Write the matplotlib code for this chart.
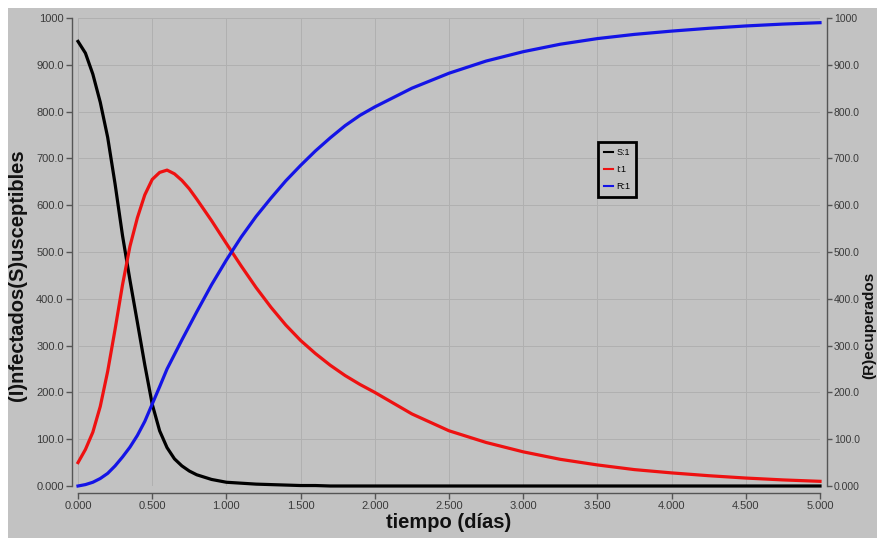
import matplotlib
matplotlib.use("Agg")
import matplotlib.pyplot as plt
from matplotlib.patches import Rectangle

# SIR simulation output (days, people)
tiempo = [0.00, 0.05, 0.10, 0.15, 0.20, 0.25, 0.30, 0.35, 0.40, 0.45, 0.50,
          0.55, 0.60, 0.65, 0.70, 0.75, 0.80, 0.90, 1.00, 1.10, 1.20, 1.30,
          1.40, 1.50, 1.60, 1.70, 1.80, 1.90, 2.00, 2.25, 2.50, 2.75, 3.00,
          3.25, 3.50, 3.75, 4.00, 4.25, 4.50, 4.75, 5.00]

susceptibles = [950, 925, 880, 820, 745, 645, 535, 440, 350, 259, 175,
                118, 82, 58, 43, 32, 24, 14, 8, 6, 4, 3,
                2, 1, 1, 0, 0, 0, 0, 0, 0, 0, 0,
                0, 0, 0, 0, 0, 0, 0, 0]

infectados = [50, 78, 115, 170, 245, 335, 430, 512, 573, 622, 655,
              670, 675, 667, 653, 635, 613, 567, 518, 470, 424, 382,
              344, 311, 283, 258, 236, 217, 200, 154, 118, 93, 73,
              57, 45, 35, 28, 22, 17, 13, 10]

recuperados = [0, 3, 8, 16, 27, 43, 62, 83, 108, 138, 175,
               212, 250, 281, 312, 342, 372, 430, 483, 532, 576, 615,
               652, 685, 716, 744, 770, 792, 810, 850, 882, 908, 928,
               944, 956, 965, 972, 978, 983, 987, 990]

x_ticks = [0, 0.5, 1, 1.5, 2, 2.5, 3, 3.5, 4, 4.5, 5]
x_labels = ["0.000", "0.500", "1.000", "1.500", "2.000", "2.500",
            "3.000", "3.500", "4.000", "4.500", "5.000"]
y_ticks = [0, 100, 200, 300, 400, 500, 600, 700, 800, 900, 1000]
y_labels = ["0.000", "100.0", "200.0", "300.0", "400.0", "500.0",
            "600.0", "700.0", "800.0", "900.0", "1000"]

W, H = 877, 538
BG = "#c2c2c2"
AX = "#555555"
TXT = "#3a3a3a"

plt.rcParams["font.family"] = ["Liberation Sans", "DejaVu Sans"]

fig = plt.figure(figsize=(W / 100, H / 100), dpi=100, facecolor="white")
fig.patches.append(Rectangle((8 / W, 0), 1, 1 - 8 / H, transform=fig.transFigure,
                             facecolor=BG, edgecolor="none", zorder=-10))

ax = fig.add_axes([78 / W, (H - 486) / H, 742 / W, 468 / H])
ax.set_facecolor(BG)
ax.set_xlim(0, 5)
ax.set_ylim(0, 1000)

ax.grid(True, color="#b0b0b0", linewidth=0.7)
ax.set_axisbelow(True)

lw = 2.3
ax.plot(tiempo, susceptibles, color="#000000", lw=lw, label="S:1", clip_on=False, zorder=3)
ax.plot(tiempo, infectados, color="#ee1111", lw=lw, label="I:1", clip_on=False, zorder=3)
ax.plot(tiempo, recuperados, color="#1414e6", lw=lw, label="R:1", clip_on=False, zorder=3)

for s in ("top", "right"):
    ax.spines[s].set_visible(False)
ax.spines["left"].set_position(("outward", 4.3))
ax.spines["bottom"].set_position(("outward", 5))
for s in ("left", "bottom"):
    ax.spines[s].set_color(AX)
    ax.spines[s].set_linewidth(1.0)

ax.set_xticks(x_ticks)
ax.set_xticklabels(x_labels)
ax.set_yticks(y_ticks)
ax.set_yticklabels(y_labels)
ax.tick_params(axis="both", colors=AX, labelcolor=TXT, labelsize=8,
               length=4, width=1.0, pad=2)

# Right-hand axis for recovered individuals
ax2 = ax.twinx()
ax2.set_ylim(0, 1000)
ax2.set_yticks(y_ticks)
ax2.set_yticklabels(y_labels)
for s in ("top", "left", "bottom"):
    ax2.spines[s].set_visible(False)
ax2.spines["right"].set_position(("outward", 5))
ax2.spines["right"].set_color(AX)
ax2.spines["right"].set_linewidth(1.0)
ax2.tick_params(axis="y", colors=AX, labelcolor=TXT, labelsize=7.5,
                length=3.5, width=1.0, pad=1.5)

fig.text(0.5 * (78 + 820) / W, 1 - 522 / H, "tiempo (días)", ha="center", va="center",
         fontsize=14.5, fontweight="bold", color="#111111")
fig.text(18 / W, 1 - 275 / H, "(I)nfectados(S)usceptibles", ha="center", va="center",
         rotation=90, fontsize=14.5, fontweight="bold", color="#111111")
fig.text(862 / W, 1 - 325 / H, "(R)ecuperados", ha="left", va="center",
         rotation=90, fontsize=11, fontweight="bold", color="#111111")

leg = ax.legend(loc="upper left", bbox_to_anchor=(598 / W, 1 - 142 / H),
                bbox_transform=fig.transFigure, fontsize=6.5, frameon=True,
                fancybox=False, handlelength=1.0, handletextpad=0.3,
                borderpad=0.7, labelspacing=0.85, borderaxespad=0)
leg.get_frame().set_facecolor(BG)
leg.get_frame().set_edgecolor("#000000")
leg.get_frame().set_linewidth(2.0)
leg.get_frame().set_alpha(1)
for line in leg.get_lines():
    line.set_linewidth(1.5)

fig.savefig("out.png", dpi=100, facecolor=fig.get_facecolor())
